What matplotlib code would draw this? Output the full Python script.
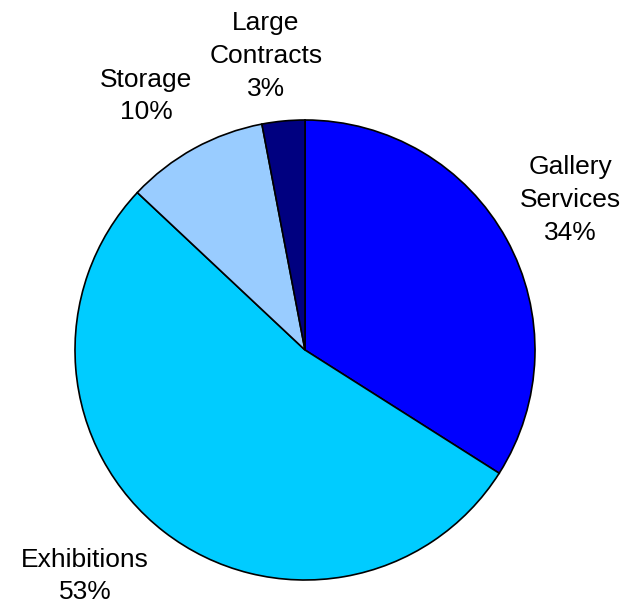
import matplotlib
matplotlib.use("Agg")
import matplotlib.pyplot as plt

categories = ["Gallery\nServices", "Exhibitions", "Storage", "Large\nContracts"]
shares = [34, 53, 10, 3]
colors = ["#0000FF", "#00CCFF", "#99CCFF", "#000080"]

# label anchor points, pixel coords from top-left
label_pos = [(570, 200), (85, 576), (146, 96), (266, 56)]

W, H = 632, 606
fig = plt.figure(figsize=(W / 100, H / 100), dpi=100)
ax = fig.add_axes([0, 0, 1, 1])

ax.pie(shares, colors=colors, startangle=90, counterclock=False,
       center=(305, H - 350), radius=230,
       wedgeprops=dict(edgecolor="black", linewidth=1.2))

for name, val, (px, py) in zip(categories, shares, label_pos):
    ax.text(px, H - py, f"{name}\n{val}%", ha="center", va="center",
            fontsize=19, family="Liberation Sans", linespacing=1.45)

ax.set_xlim(0, W)
ax.set_ylim(0, H)
ax.set_aspect("auto")
ax.axis("off")

fig.savefig("out.png", dpi=100, facecolor="white")
